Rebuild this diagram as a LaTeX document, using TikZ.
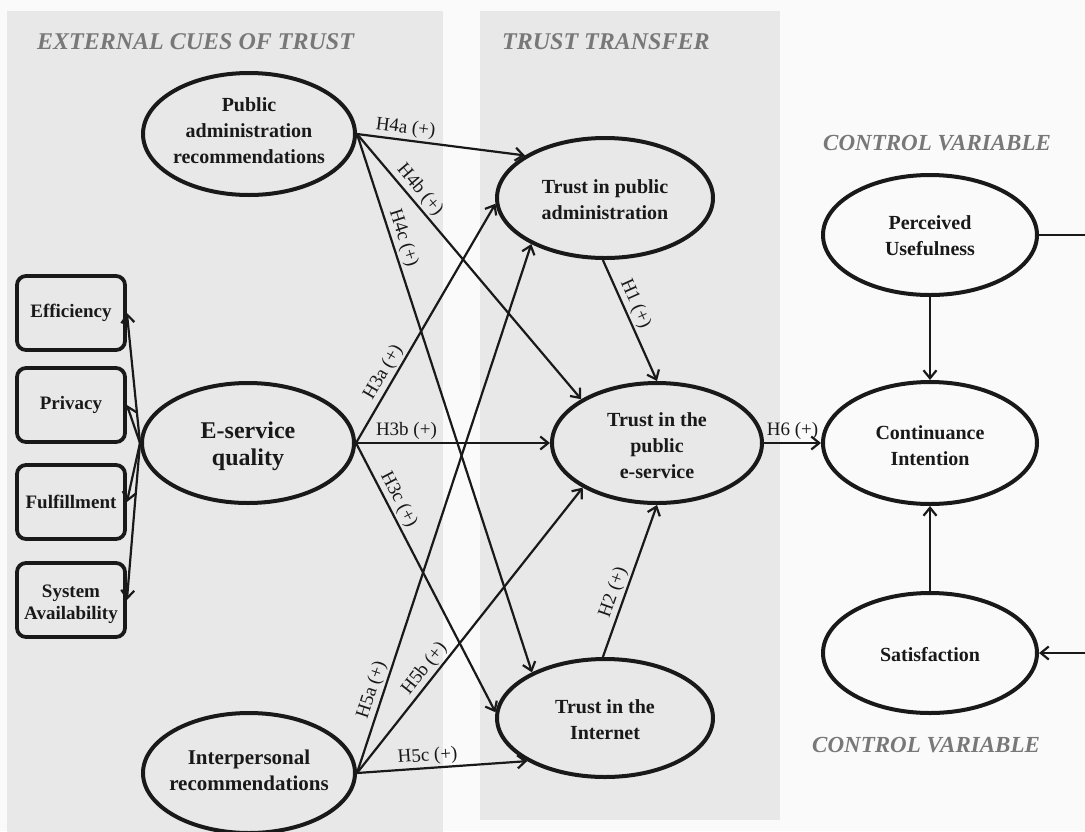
\documentclass[tikz,border=0pt]{standalone}
\usepackage{fontspec}
\setmainfont{Liberation Serif}
\usetikzlibrary{shapes.geometric,arrows.meta}
\definecolor{ink}{rgb}{0.1,0.1,0.1}
\definecolor{panelgray}{rgb}{0.91,0.91,0.91}
\definecolor{headgray}{rgb}{0.47,0.47,0.47}
\tikzset{
  construct/.style={ellipse, draw=ink, line width=4pt, inner sep=0pt},
  indicator/.style={rectangle, rounded corners=9pt, draw=ink, line width=3.8pt,
    minimum width=108pt, minimum height=74pt, inner sep=0pt},
  cname/.style={align=center, text=ink, inner sep=0pt,
    font=\bfseries\fontsize{20}{26}\selectfont},
  iname/.style={cname, font=\bfseries\fontsize{19}{22}\selectfont},
  link/.style={draw=ink, line width=2.2pt, -{Straight Barb[length=8pt,width=13pt]}},
  hyp/.style={sloped, above, inner sep=2pt, text=ink,
    font=\fontsize{19}{22}\selectfont},
  heading/.style={anchor=west, inner sep=0pt, text=headgray,
    font=\bfseries\itshape\fontsize{24}{28}\selectfont},
}
\begin{document}
\begin{tikzpicture}[x=1pt,y=-1pt]
\useasboundingbox (0,0) rectangle (1085,831);
\fill[white!98!black] (0,0) rectangle (1085,831);

% shaded panels
\fill[panelgray] (7,11) rectangle (443,840);
\fill[panelgray] (480,11) rectangle (780,820);

% panel headings
\node[heading] (h-ext) at (37,42) {EXTERNAL CUES OF TRUST};
\node[heading] (h-tt) at (502,42) {TRUST TRANSFER};
\node[heading, font=\bfseries\itshape\fontsize{23}{28}\selectfont] (h-cv1) at (823,143) {CONTROL VARIABLE};
\node[heading, font=\bfseries\itshape\fontsize{23}{28}\selectfont] (h-cv2) at (812,745) {CONTROL VARIABLE};

% external cues
\node[construct, minimum width=212pt, minimum height=122pt] (pa) at (249,134) {};
\node[cname] (pa-t) at (249,131) {Public\\administration\\recommendations};
\node[construct, minimum width=212pt, minimum height=120pt] (es) at (248,443) {};
\node[cname, font=\bfseries\fontsize{24}{27}\selectfont] (es-t) at (248,446) {E-service\\quality};
\node[construct, minimum width=212pt, minimum height=120pt] (ir) at (249,773) {};
\node[cname, font=\bfseries\fontsize{21}{26}\selectfont] (ir-t) at (249,770) {Interpersonal\\recommendations};

% e-service quality dimensions
\node[indicator] (eff) at (71,313) {};
\node[iname] (eff-t) at (eff) {Efficiency};
\node[indicator] (prv) at (71,405) {};
\node[iname] (prv-t) at (prv) {Privacy};
\node[indicator] (ful) at (71,502) {};
\node[iname] (ful-t) at (ful) {Fulfillment};
\node[indicator] (sys) at (71,600) {};
\node[iname] (sys-t) at (71,604) {System\\Availability};

% trust transfer
\node[construct, minimum width=216pt, minimum height=120pt] (ta) at (605,198) {};
\node[cname] (ta-t) at (605,200) {Trust in public\\administration};
\node[construct, minimum width=210pt, minimum height=120pt] (te) at (657,443) {};
\node[cname] (te-t) at (657,446) {Trust in the\\public\\e-service};
\node[construct, minimum width=216pt, minimum height=118pt] (ti) at (605,718) {};
\node[cname] (ti-t) at (605,720) {Trust in the\\Internet};

% outcome and controls
\node[construct, minimum width=214pt, minimum height=120pt] (pu) at (930,235) {};
\node[cname] (pu-t) at (930,236) {Perceived\\Usefulness};
\node[construct, minimum width=214pt, minimum height=122pt] (ci) at (930,443) {};
\node[cname] (ci-t) at (930,446) {Continuance\\Intention};
\node[construct, minimum width=214pt, minimum height=120pt] (sat) at (930,653) {};
\node[cname] (sat-t) at (930,655) {Satisfaction};

% formative dimensions
\draw[link] (es.west) -- (eff.east);
\draw[link] (es.west) -- (prv.east);
\draw[link] (es.west) -- (ful.east);
\draw[link] (es.west) -- (sys.east);

% hypotheses H4
\draw[link] (pa.east) -- node[hyp, pos=0.28] (l-h4a) {H4a (+)} (ta.152);
\draw[link] (pa.east) -- node[hyp, pos=0.24] (l-h4b) {H4b (+)} (te.150);
\draw[link] (pa.east) -- node[hyp, pos=0.20] (l-h4c) {H4c (+)} (ti.148);

% hypotheses H3
\draw[link] (es.east) -- node[hyp, pos=0.27] (l-h3a) {H3a (+)} (ta.183);
\draw[link] (es.east) -- node[hyp, pos=0.26] (l-h3b) {H3b (+)} (te.west);
\draw[link] (es.east) -- node[hyp, pos=0.23] (l-h3c) {H3c (+)} (ti.177);

% hypotheses H5
\draw[link] (ir.east) -- node[hyp, pos=0.15] (l-h5a) {H5a (+)} (ta.212);
\draw[link] (ir.east) -- node[hyp, pos=0.34] (l-h5b) {H5b (+)} (te.211);
\draw[link] (ir.east) -- node[hyp, pos=0.42] (l-h5c) {H5c (+)} (ti.209);

% transfer paths
\draw[link] (ta.268) -- node[hyp, pos=0.40] (l-h1) {H1 (+)} (te.north);
\draw[link] (ti.92) -- node[hyp, pos=0.40] (l-h2) {H2 (+)} (te.south);
\draw[link] (te.east) -- node[hyp, pos=0.5] (l-h6) {H6 (+)} (ci.west);

% control variables
\draw[link] (pu.south) -- (ci.north);
\draw[link] (sat.north) -- (ci.south);
\coordinate (rim) at (1100,235);
\draw[link] (pu.east) -- (rim) |- (sat.east);
\end{tikzpicture}
\end{document}
